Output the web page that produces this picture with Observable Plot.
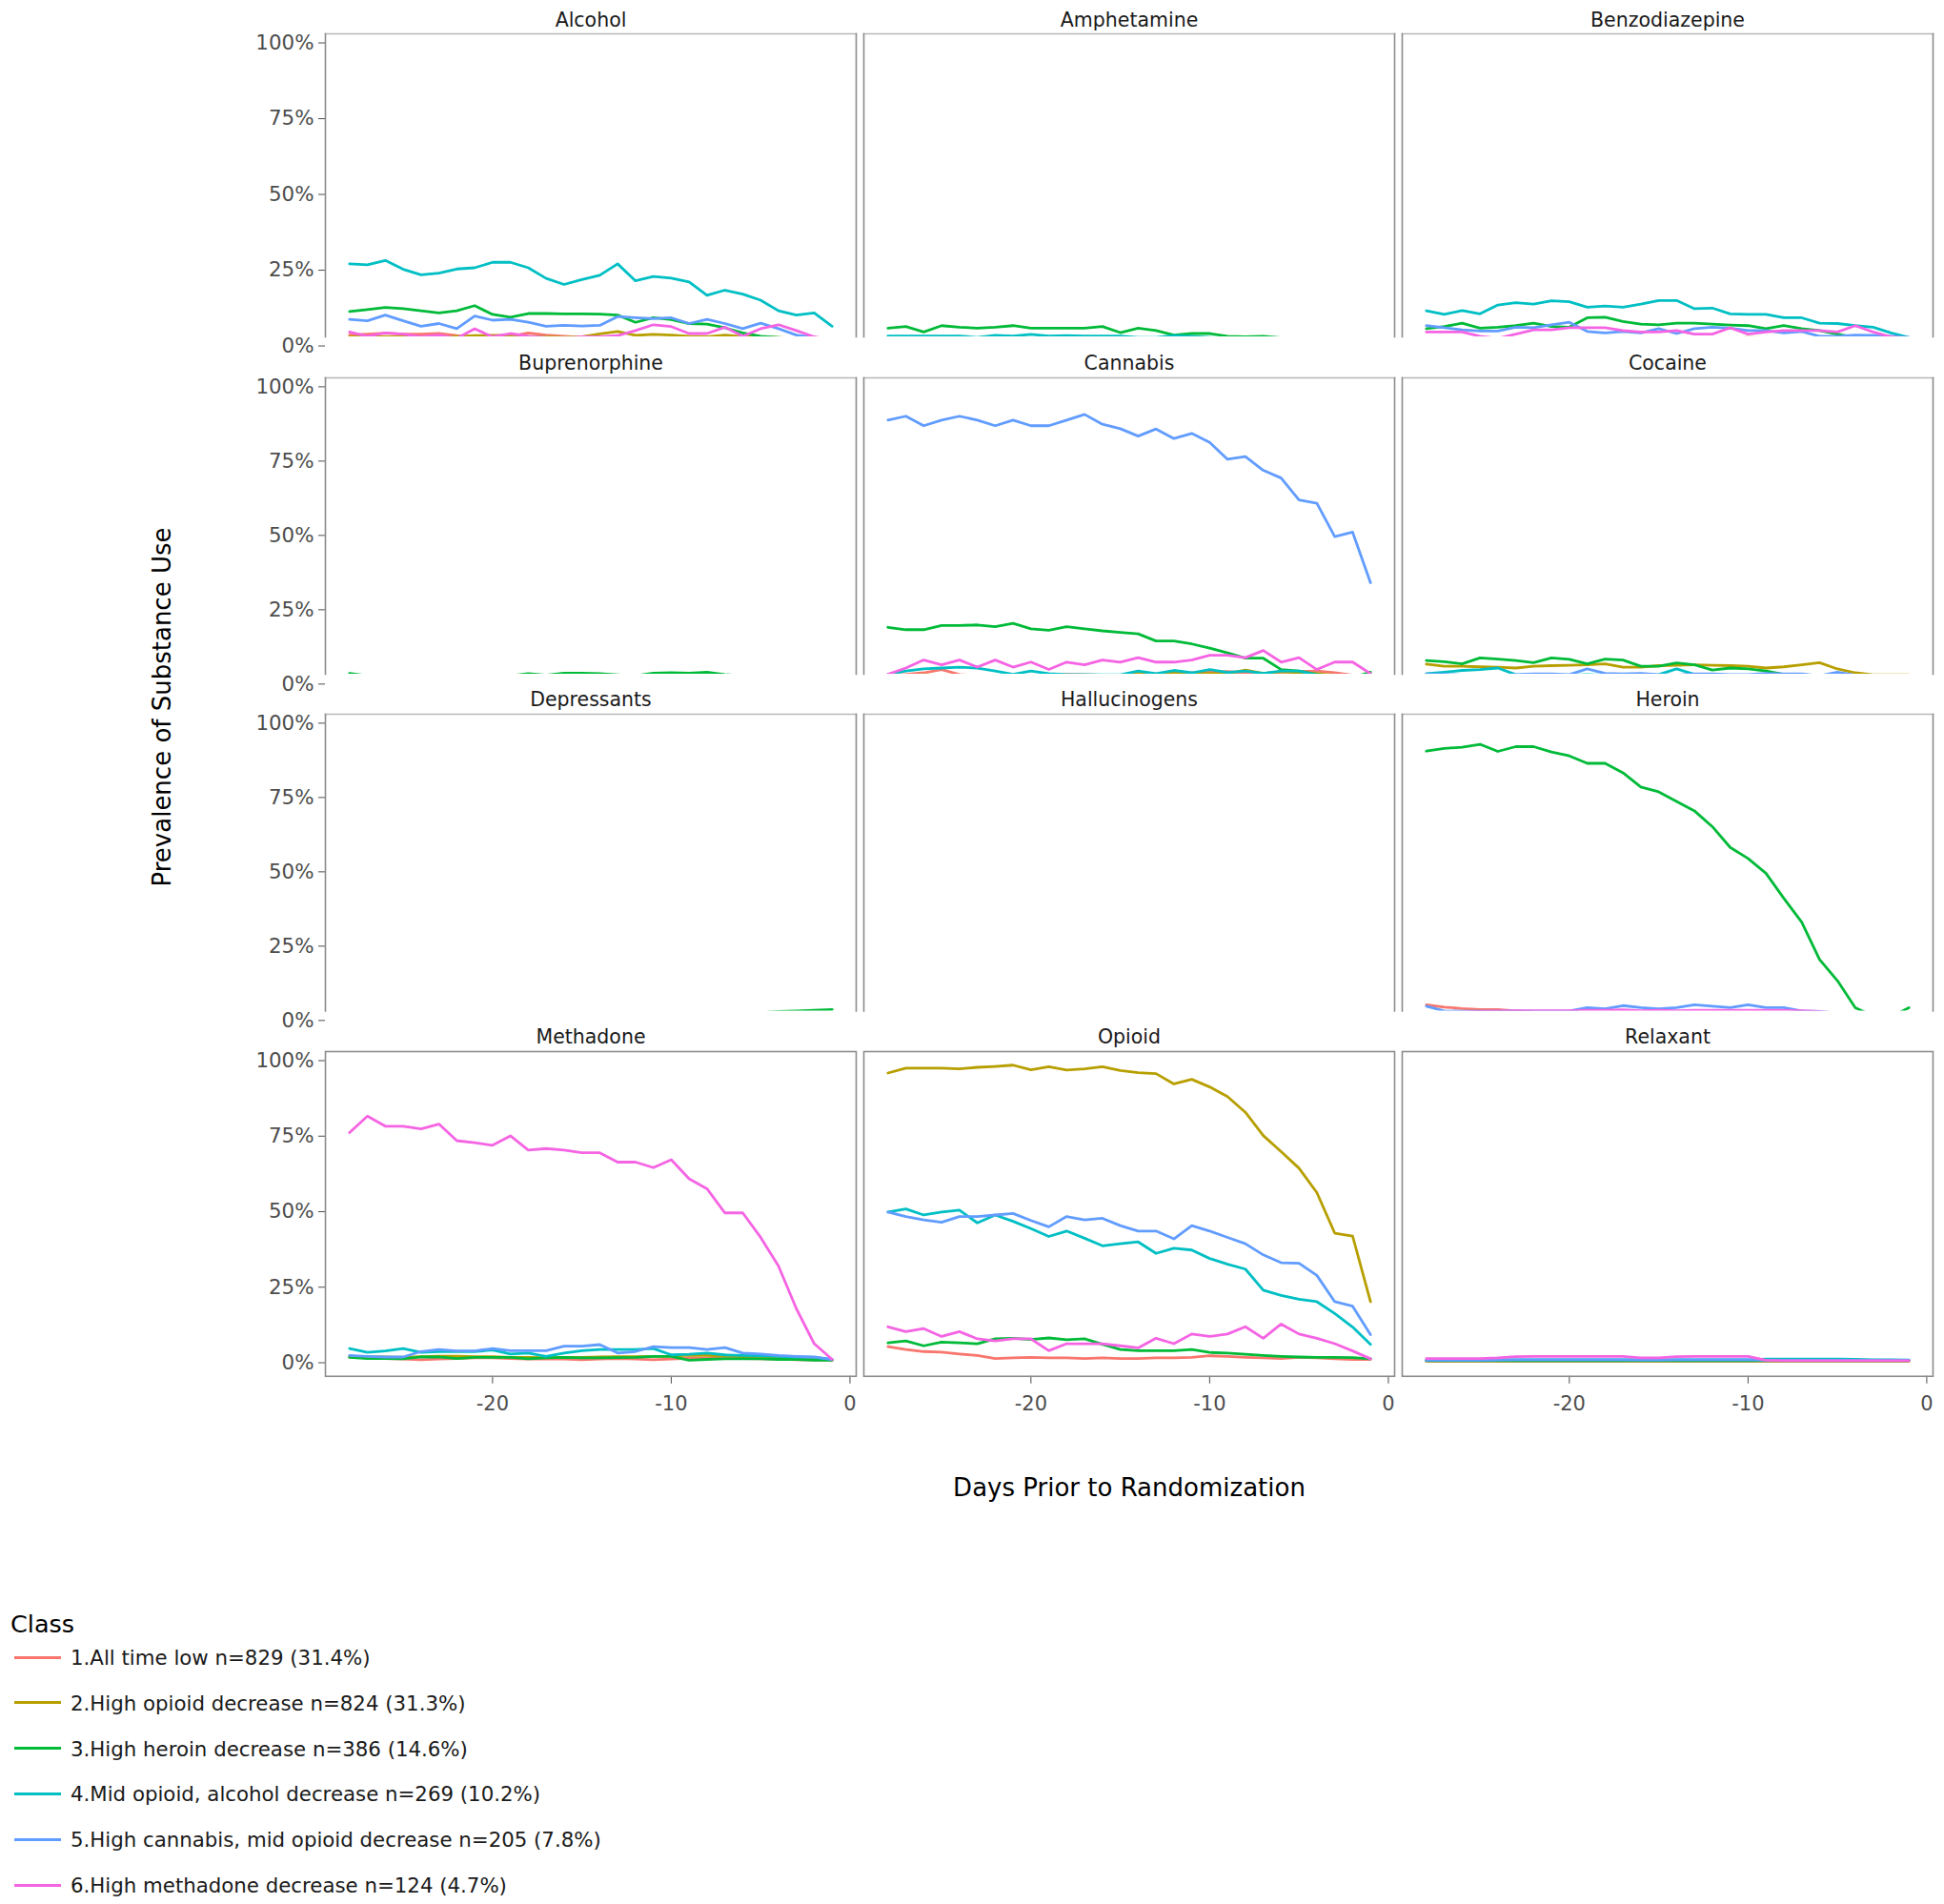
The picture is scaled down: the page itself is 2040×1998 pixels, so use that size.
<!DOCTYPE html>
<html>
<head>
<meta charset="utf-8">
<script src="https://cdn.jsdelivr.net/npm/d3@7"></script>
<script src="https://cdn.jsdelivr.net/npm/@observablehq/plot@0.6"></script>
<style>
  html, body { margin: 0; padding: 0; background: #fff; }
  body { font-family: "DejaVu Sans", sans-serif; }
  #chart { position: relative; width: 2040px; height: 1998px; overflow: hidden; background: #fff; }
  #chart > svg { position: absolute; left: 0; }
  .ytitle { position: absolute; left: 170px; top: 742px; transform: translate(-50%, -50%) rotate(-90deg); font-size: 26px; color: #000; white-space: nowrap; }
  .xtitle { position: absolute; left: 1185px; top: 1561px; transform: translate(-50%, -50%); font-size: 26px; color: #000; white-space: nowrap; }
  .legtitle { position: absolute; left: 11px; top: 1704px; transform: translateY(-50%); font-size: 25.5px; color: #000; }
  .legitem { position: absolute; left: 15px; transform: translateY(-50%); display: flex; align-items: center; font-size: 21.3px; color: #1a1a1a; white-space: nowrap; }
  .legitem svg { display: block; margin-right: 10px; }
</style>
</head>
<body>
<div id="chart"></div>
<script>
// ---------- data ----------
const days = [-28,-27,-26,-25,-24,-23,-22,-21,-20,-19,-18,-17,-16,-15,-14,-13,-12,-11,-10,-9,-8,-7,-6,-5,-4,-3,-2,-1];

const classes = [
  "1.All time low n=829 (31.4%)",
  "2.High opioid decrease n=824 (31.3%)",
  "3.High heroin decrease n=386 (14.6%)",
  "4.Mid opioid, alcohol decrease n=269 (10.2%)",
  "5.High cannabis, mid opioid decrease n=205 (7.8%)",
  "6.High methadone decrease n=124 (4.7%)"
];
const colors = ["#F8766D", "#B79F00", "#00BA38", "#00BFC4", "#619CFF", "#F564E3"];

const rows = [
  ["Alcohol", "Amphetamine", "Benzodiazepine"],
  ["Buprenorphine", "Cannabis", "Cocaine"],
  ["Depressants", "Hallucinogens", "Heroin"],
  ["Methadone", "Opioid", "Relaxant"]
];

const yTicks = [0, 25, 50, 75, 100];
const xTicks = [-20, -10, 0];

// prevalence (%) per class (1..6), days -28..-1
const alcohol = [
  [3.6,3.9,4.2,3.9,3.9,4.1,3.4,3.0,3.5,3.2,4.3,3.6,3.2,2.8,2.5,2.5,2.5,2.5,2.5,2.5,2.4,2.5,2.4,2.4,2.5,2.6,2.5,2.0],
  [3.0,3.0,3.0,3.0,3.0,2.8,3.1,3.4,3.4,3.6,3.2,3.0,2.8,3.0,4.0,4.8,3.5,3.8,3.6,3.2,3.0,3.6,3.0,3.0,2.8,2.6,2.4,2.2],
  [11.4,12.0,12.7,12.3,11.6,10.9,11.6,13.3,10.4,9.5,10.7,10.7,10.6,10.6,10.5,10.2,7.8,9.3,8.7,7.4,7.2,6.0,4.3,3.2,2.8,2.2,1.8,1.4],
  [27.1,26.8,28.2,25.3,23.5,24.0,25.4,25.8,27.6,27.6,25.8,22.3,20.3,21.9,23.3,27.1,21.5,22.9,22.4,21.1,16.7,18.4,17.1,15.1,11.6,10.2,10.9,6.5],
  [8.8,8.3,10.2,8.3,6.5,7.4,5.7,9.9,8.5,8.8,7.8,6.5,6.8,6.6,6.8,9.7,9.3,9.0,9.3,7.4,8.8,7.4,5.7,7.5,5.7,3.6,2.8,2.0],
  [4.6,3.2,4.3,3.9,3.0,3.6,2.5,5.7,3.0,4.1,3.2,2.8,2.5,3.0,3.0,3.4,5.1,7.0,6.4,4.1,4.1,6.2,3.2,5.7,7.0,5.1,3.0,2.0]
];
const amphetamine = [
  [1.5,1.5,1.4,1.4,1.3,1.3,1.2,1.2,1.2,1.1,1.1,1.0,1.0,1.0,1.0,1.0,0.9,0.9,0.9,0.8,0.8,0.8,0.7,0.7,0.6,0.6,0.5,0.5],
  [1.8,1.8,1.7,1.8,1.7,1.6,1.6,1.7,1.5,1.6,1.5,1.5,1.4,1.4,1.3,1.3,1.2,1.2,1.1,1.0,1.0,0.9,0.9,0.8,0.8,0.7,0.6,0.5],
  [5.9,6.4,4.6,6.7,6.2,5.9,6.2,6.7,5.9,5.9,5.9,5.9,6.4,4.4,5.9,5.1,3.6,4.1,4.1,3.2,3.0,3.2,2.7,2.4,2.0,2.0,1.8,1.5],
  [3.3,3.3,3.3,3.3,3.3,2.8,3.5,3.3,3.8,3.3,3.4,3.3,3.3,3.3,2.8,2.8,3.4,3.2,2.8,2.7,2.6,2.5,2.4,2.3,2.2,2.0,1.8,1.6],
  [1.6,1.5,1.6,1.4,1.5,1.4,1.5,1.3,1.4,1.3,1.2,1.2,1.3,1.1,1.1,1.0,1.0,1.0,0.9,0.9,0.8,0.8,0.8,0.7,0.7,0.6,0.6,0.5],
  [2.0,1.8,2.0,1.6,1.8,1.6,1.8,1.5,1.6,1.4,1.6,1.4,1.2,1.4,1.2,1.0,1.2,1.0,1.0,0.8,1.0,0.8,0.8,0.6,0.6,0.5,0.5,0.4]
];
const benzodiazepine = [
  [2.0,2.1,2.0,2.2,2.1,2.0,2.0,1.9,2.0,1.9,1.8,1.9,1.8,1.8,1.7,1.8,2.2,2.4,2.5,2.4,2.3,2.0,1.8,1.6,1.5,1.4,1.2,1.0],
  [2.4,2.5,2.4,2.5,2.4,2.3,2.4,2.3,2.2,2.3,2.2,2.1,2.2,2.1,2.0,2.1,2.2,2.6,2.8,2.7,2.5,2.4,2.2,2.0,1.8,1.6,1.4,1.2],
  [5.7,6.4,7.5,5.9,6.2,6.7,7.5,6.4,6.2,9.3,9.5,8.1,7.2,7.0,7.5,7.5,7.2,6.9,6.7,5.7,6.7,5.7,5.1,3.9,2.8,2.4,2.0,1.6],
  [11.6,10.4,11.7,10.6,13.5,14.3,13.8,14.9,14.6,12.8,13.2,12.8,13.8,15.0,15.0,12.3,12.5,10.6,10.4,10.4,9.3,9.3,7.5,7.4,6.7,6.2,4.3,2.8],
  [6.7,6.0,5.3,4.9,4.9,6.2,6.0,7.0,7.8,4.8,4.3,4.8,4.3,5.7,4.1,5.7,6.2,5.9,5.1,5.1,4.3,4.8,3.2,3.2,3.6,3.5,3.2,2.8],
  [4.6,4.6,4.6,3.2,2.5,3.9,5.3,5.3,6.0,6.0,6.0,5.1,4.6,4.6,5.1,3.9,3.9,6.0,3.9,4.6,5.1,5.1,5.1,4.6,6.7,4.6,3.0,2.5]
];
const buprenorphine = [
  [1.2,1.1,1.2,1.0,1.1,1.0,1.0,0.9,1.0,0.9,0.9,0.8,0.9,0.8,0.8,0.8,0.7,0.7,0.7,0.6,0.6,0.6,0.5,0.5,0.5,0.4,0.4,0.3],
  [2.2,2.1,2.3,2.0,2.2,2.1,2.0,2.1,1.9,2.0,1.9,1.8,1.9,1.8,1.7,1.8,1.6,1.6,1.5,1.5,1.4,1.3,1.2,1.1,1.0,0.9,0.8,0.6],
  [3.6,2.8,2.5,2.4,2.6,2.8,2.9,3.0,2.9,2.8,3.5,3.0,3.7,3.7,3.5,3.1,2.8,3.7,3.8,3.7,4.0,3.2,2.8,2.5,2.2,2.0,1.8,1.5],
  [2.0,1.8,2.0,1.9,1.8,1.9,1.7,1.8,1.6,1.7,1.6,1.5,1.6,1.4,1.5,1.4,1.3,1.4,1.2,1.3,1.1,1.2,1.0,1.0,0.9,0.8,0.7,0.6],
  [1.5,1.6,1.4,1.5,1.3,1.4,1.2,1.4,1.2,1.3,1.1,1.2,1.0,1.1,1.0,1.0,0.9,0.9,0.8,0.8,0.7,0.7,0.6,0.6,0.5,0.5,0.4,0.4],
  [2.4,2.2,2.4,2.0,2.2,2.0,1.8,2.0,1.8,2.0,1.6,1.8,1.6,1.6,1.4,1.6,1.4,1.4,1.2,1.2,1.0,1.0,0.8,0.8,0.6,0.6,0.5,0.4]
];
const cannabis = [
  [3.0,3.3,3.8,4.9,3.2,2.8,2.8,2.8,2.8,3.1,3.3,3.2,3.0,3.0,3.0,3.4,3.6,3.8,4.0,4.2,3.8,3.6,4.0,4.2,4.4,3.8,3.0,2.8],
  [3.0,3.0,3.1,3.0,2.9,2.9,2.8,3.0,3.0,2.9,2.8,2.8,2.9,3.0,3.6,3.3,3.8,3.4,3.6,3.5,4.7,3.6,4.2,3.8,3.5,3.0,2.6,2.4],
  [19.1,18.3,18.3,19.7,19.7,19.9,19.3,20.4,18.6,18.1,19.3,18.6,17.9,17.4,16.9,14.5,14.5,13.5,12.1,10.5,8.7,8.7,4.9,4.4,3.3,2.5,2.2,4.0],
  [3.3,4.4,5.1,5.4,5.7,5.4,4.4,3.3,4.4,3.5,3.2,3.2,3.1,3.1,4.4,3.5,4.6,3.8,4.9,3.9,4.4,3.6,4.4,4.4,3.0,2.5,2.2,2.0],
  [88.8,90.1,86.9,88.8,90.1,88.8,86.9,88.8,86.9,86.9,88.8,90.7,87.4,85.9,83.4,85.8,82.6,84.3,81.3,75.6,76.5,71.9,69.3,61.9,60.8,49.6,51.1,34.1],
  [3.3,5.4,8.1,6.5,8.1,5.7,8.1,5.7,7.4,4.9,7.4,6.5,8.1,7.4,8.9,7.4,7.4,8.1,9.7,9.7,8.9,11.3,7.4,8.9,4.9,7.4,7.4,3.5]
];
const cocaine = [
  [2.0,2.1,2.2,2.0,2.1,1.9,2.0,1.8,1.9,1.8,1.7,1.8,1.6,1.7,1.6,1.5,1.6,1.4,1.5,1.3,1.4,1.2,1.2,1.1,1.0,0.9,0.8,0.7],
  [6.7,6.0,6.0,5.8,5.7,5.4,6.0,6.2,6.3,6.5,6.8,5.7,5.7,6.2,6.3,6.5,6.3,6.2,6.0,5.4,5.8,6.5,7.2,5.1,3.8,3.1,3.1,3.1],
  [7.9,7.5,6.8,8.8,8.4,7.9,7.2,8.8,8.3,6.8,8.4,8.1,6.0,6.0,7.1,6.5,4.7,5.4,5.1,4.4,3.3,2.5,2.2,2.0,1.8,1.5,1.3,1.2],
  [3.5,4.0,4.6,4.9,5.4,3.2,3.0,3.0,3.0,3.2,3.0,3.0,3.1,3.2,5.1,3.3,3.2,3.0,2.8,2.6,2.5,2.4,2.3,2.2,2.0,1.8,1.6,1.5],
  [3.3,3.3,3.0,2.8,2.8,3.2,3.4,3.4,3.2,5.1,3.6,3.4,3.6,3.2,3.0,3.4,3.4,3.2,3.2,3.6,3.4,3.4,2.8,4.0,3.0,2.8,2.6,2.4],
  [1.8,1.6,1.8,1.5,1.6,1.4,1.6,1.3,1.5,1.2,1.4,1.2,1.3,1.1,1.2,1.0,1.1,1.0,1.0,0.9,0.9,0.8,0.8,0.7,0.7,0.6,0.6,0.5]
];
const depressants = [
  [0.6,0.6,0.5,0.6,0.5,0.5,0.6,0.5,0.5,0.4,0.5,0.4,0.5,0.4,0.4,0.4,0.5,0.4,0.4,0.3,0.4,0.3,0.3,0.3,0.3,0.2,0.2,0.2],
  [0.9,0.8,0.9,0.8,0.8,0.9,0.7,0.8,0.7,0.8,0.7,0.7,0.6,0.7,0.6,0.6,0.6,0.5,0.6,0.5,0.5,0.5,0.4,0.4,0.4,0.3,0.3,0.3],
  [1.5,1.4,1.6,1.5,1.4,1.5,1.3,1.4,1.5,1.3,1.4,1.2,1.3,1.5,1.4,1.6,1.5,1.7,1.8,1.9,2.0,2.2,2.4,2.6,3.0,3.2,3.4,3.7],
  [1.2,1.1,1.2,1.0,1.1,1.0,1.1,0.9,1.0,0.9,1.0,0.8,0.9,0.8,0.9,0.8,0.8,0.7,0.7,0.7,0.6,0.6,0.6,0.5,0.5,0.5,0.4,0.4],
  [1.0,1.1,0.9,1.0,0.9,1.0,0.8,0.9,0.8,0.9,0.8,0.8,0.7,0.8,0.7,0.7,0.6,0.7,0.6,0.6,0.5,0.6,0.5,0.5,0.4,0.4,0.4,0.3],
  [0.8,0.8,0.8,0.8,0.9,0.8,0.8,0.8,0.8,0.8,0.8,0.8,0.8,0.8,0.8,0.8,0.8,0.8,0.8,0.8,0.8,0.8,0.8,0.8,0.8,0.8,0.8,0.8]
];
const hallucinogens = [
  [0.4,0.4,0.4,0.3,0.4,0.3,0.3,0.3,0.3,0.3,0.3,0.3,0.2,0.3,0.2,0.2,0.2,0.2,0.2,0.2,0.2,0.2,0.1,0.1,0.1,0.1,0.1,0.1],
  [0.5,0.5,0.4,0.5,0.4,0.4,0.4,0.4,0.4,0.3,0.4,0.3,0.3,0.3,0.3,0.3,0.3,0.2,0.3,0.2,0.2,0.2,0.2,0.2,0.1,0.1,0.1,0.1],
  [1.0,1.1,0.9,1.0,1.0,0.9,1.0,0.8,0.9,0.8,0.9,0.8,0.8,0.7,0.8,0.7,0.7,0.6,0.7,0.6,0.6,0.5,0.5,0.5,0.4,0.4,0.3,0.3],
  [1.2,1.0,1.2,1.1,1.0,1.1,0.9,1.0,0.9,1.0,0.8,0.9,0.8,0.8,0.7,0.8,0.7,0.7,0.6,0.6,0.6,0.5,0.5,0.4,0.4,0.4,0.3,0.3],
  [1.6,1.5,1.6,1.4,1.5,1.4,1.3,1.4,1.2,1.3,1.2,1.1,1.2,1.0,1.1,1.0,0.9,1.0,0.8,0.9,0.8,0.7,0.7,0.6,0.6,0.5,0.5,0.4],
  [0.8,0.8,0.8,0.8,0.8,0.8,0.8,0.8,0.8,0.8,0.8,0.8,0.8,0.8,0.8,0.8,0.8,0.8,0.8,0.8,0.8,0.8,0.8,0.8,0.8,0.8,0.8,0.8]
];
const heroin = [
  [5.3,4.5,4.0,3.7,3.7,3.2,2.8,2.6,2.5,2.4,2.3,2.2,2.1,2.0,2.0,1.9,1.8,1.8,1.7,1.6,1.6,1.5,1.4,1.3,1.2,1.1,1.0,0.9],
  [2.2,2.1,2.2,2.0,2.1,2.0,1.9,2.0,1.9,1.8,1.9,1.8,1.7,1.7,1.6,1.6,1.5,1.5,1.4,1.4,1.3,1.2,1.2,1.1,1.0,0.9,0.8,0.7],
  [90.6,91.5,91.9,92.9,90.5,92.1,92.1,90.3,89.0,86.5,86.5,83.3,78.5,76.9,73.7,70.5,65.2,58.2,54.5,49.5,41.1,33.1,20.5,13.4,4.3,1.5,1.2,4.3],
  [2.0,1.9,2.0,1.8,1.9,1.7,1.8,1.7,1.6,1.7,1.5,1.6,1.5,1.4,1.4,1.3,1.3,1.2,1.2,1.1,1.1,1.0,1.0,0.9,0.8,0.8,0.7,0.6],
  [4.8,3.2,3.1,3.1,3.1,3.2,3.1,3.1,3.2,4.3,3.9,5.0,4.3,3.9,4.3,5.3,4.8,4.3,5.3,4.3,4.3,3.2,3.0,2.5,2.2,2.0,1.8,1.6],
  [2.5,2.6,2.8,3.0,3.2,3.3,3.3,3.3,3.3,3.4,3.4,3.6,3.3,3.4,3.3,3.4,3.4,3.4,3.4,3.4,3.4,3.3,3.0,2.5,2.2,2.0,1.8,1.5]
];
const methadone = [
  [1.8,1.6,1.4,1.2,1.0,1.2,1.4,1.6,1.6,1.4,1.2,1.2,1.2,1.0,1.2,1.4,1.2,1.0,1.2,1.5,1.5,1.4,1.4,1.3,1.2,1.0,0.9,0.8],
  [2.0,2.0,1.9,1.8,2.0,2.2,2.2,2.0,2.0,1.8,1.8,1.7,1.8,1.8,1.9,2.0,2.0,2.1,2.2,2.5,2.4,2.2,2.0,2.2,1.8,1.5,1.2,1.0],
  [1.8,1.4,1.4,1.3,1.9,1.9,1.4,1.8,1.8,1.8,1.3,1.6,1.8,1.6,1.6,1.7,1.8,2.1,2.1,0.8,1.1,1.3,1.3,1.3,1.1,1.1,0.8,0.8],
  [4.7,3.4,3.9,4.7,3.4,3.7,3.7,3.7,4.2,2.9,3.2,2.1,3.2,4.0,4.4,4.4,4.4,4.7,2.6,2.8,3.2,2.6,2.4,2.3,2.1,1.9,1.8,1.1],
  [2.4,2.1,1.9,1.9,3.7,4.4,3.9,3.9,4.7,4.0,4.0,4.0,5.5,5.5,6.0,3.2,3.7,5.3,5.0,5.0,4.4,5.0,3.2,2.9,2.4,2.1,1.9,1.1],
  [76.2,81.6,78.3,78.3,77.4,79.0,73.5,72.8,72.0,75.1,70.4,70.9,70.4,69.5,69.5,66.4,66.4,64.6,67.2,60.9,57.6,49.6,49.6,41.5,32.0,17.9,6.3,1.1]
];
const opioid = [
  [5.3,4.4,3.7,3.5,2.9,2.4,1.4,1.6,1.8,1.6,1.6,1.4,1.6,1.4,1.4,1.6,1.6,1.8,2.3,2.1,1.8,1.6,1.4,1.8,1.6,1.3,1.1,1.1],
  [95.9,97.5,97.5,97.5,97.3,97.8,98.1,98.5,97.0,98.0,96.9,97.3,98.0,96.7,96.0,95.7,92.3,93.8,91.3,88.1,82.9,75.2,69.9,64.4,56.3,42.9,41.9,20.2],
  [6.6,7.2,5.6,6.8,6.6,6.3,7.9,8.1,7.7,8.2,7.6,7.9,6.1,4.4,4.0,4.0,4.0,4.4,3.4,3.2,2.8,2.4,2.1,1.9,1.8,1.8,1.7,1.3],
  [49.9,50.9,48.9,49.9,50.5,46.3,48.9,46.8,44.4,41.8,43.6,41.2,38.7,39.4,40.0,36.2,37.9,37.3,34.5,32.6,31.0,24.0,22.3,21.0,20.2,16.3,11.8,6.1],
  [49.9,48.4,47.3,46.5,48.4,48.4,48.9,49.4,47.1,45.0,48.4,47.3,47.8,45.4,43.6,43.6,41.0,45.4,43.6,41.5,39.4,35.7,33.1,32.9,28.9,20.2,18.7,9.3],
  [11.9,10.3,11.3,8.7,10.3,7.9,7.2,7.9,7.9,4.0,6.3,6.3,6.3,5.6,4.9,8.1,6.3,9.5,8.7,9.5,11.9,8.1,12.8,9.5,8.1,6.3,3.9,1.3]
];
const relaxant = [
  [0.5,0.5,0.5,0.5,0.5,0.5,0.5,0.5,0.5,0.5,0.5,0.5,0.5,0.5,0.5,0.5,0.5,0.5,0.5,0.5,0.5,0.5,0.5,0.5,0.5,0.5,0.5,0.5],
  [0.6,0.6,0.6,0.6,0.6,0.6,0.6,0.6,0.6,0.6,0.6,0.6,0.6,0.6,0.6,0.6,0.6,0.6,0.6,0.6,0.6,0.6,0.6,0.6,0.6,0.6,0.6,0.6],
  [0.7,0.7,0.7,0.7,0.7,0.7,0.7,0.7,0.7,0.7,0.7,0.7,0.7,0.7,0.7,0.7,0.7,0.7,0.7,0.7,0.7,0.7,0.7,0.7,0.7,0.7,0.7,0.7],
  [0.9,0.9,0.9,0.9,1.0,1.0,1.0,1.0,1.0,1.0,1.0,1.0,1.0,1.0,1.0,1.0,1.0,1.0,1.0,1.2,1.2,1.2,1.2,1.2,1.1,1.0,1.0,0.9],
  [0.8,0.8,0.8,0.8,0.9,1.0,1.0,1.0,1.0,1.0,1.0,1.0,0.9,0.9,1.0,1.0,1.0,1.0,1.0,0.8,0.8,0.8,0.8,0.8,0.8,0.8,0.8,0.8],
  [1.4,1.4,1.4,1.4,1.6,2.0,2.1,2.1,2.1,2.1,2.1,2.1,1.6,1.6,2.0,2.1,2.1,2.1,2.1,0.8,0.7,0.7,0.7,0.7,0.7,0.7,0.7,0.7]
];

const seriesBySubstance = {
  Alcohol: alcohol, Amphetamine: amphetamine, Benzodiazepine: benzodiazepine,
  Buprenorphine: buprenorphine, Cannabis: cannabis, Cocaine: cocaine,
  Depressants: depressants, Hallucinogens: hallucinogens, Heroin: heroin,
  Methadone: methadone, Opioid: opioid, Relaxant: relaxant
};

// ---------- layout (pixels) ----------
const rowGeom = [
  {y100: 45,   y0: 363,  lo: 3.0},
  {y100: 405,  y0: 717,  lo: 3.3},
  {y100: 758,  y0: 1070, lo: 3.2},
  {y100: 1113, y0: 1430, lo: -4.5}
];
const yHi = 103;
const FONT = "DejaVu Sans";

const chart = document.getElementById("chart");

rows.forEach((subs, r) => {
  const g = rowGeom[r];
  const s = (g.y0 - g.y100) / 100;
  const frameTop = g.y100 - (yHi - 100) * s;
  const frameH = (yHi - g.lo) * s;
  const last = r === rows.length - 1;
  const mt = 40, mb = last ? 56 : 30;

  const data = [];
  for (const sub of subs) {
    seriesBySubstance[sub].forEach((vals, ci) => {
      vals.forEach((v, i) => data.push({sub, cls: classes[ci], day: days[i], v}));
    });
  }

  const marks = [
    Plot.axisFx({anchor: "top", tickSize: 0, tickPadding: 8, fontSize: 20.5, label: null, color: "#1a1a1a"}),
    Plot.axisY({ticks: yTicks, tickFormat: d => d + "%", tickSize: 7, tickPadding: 5, fontSize: 21.4, label: null, color: "#4d4d4d"}),
    Plot.line(data, {x: "day", y: "v", z: "cls", stroke: "cls", fx: "sub", strokeWidth: 2.8, clip: true})
  ];
  if (last) {
    marks.push(Plot.axisX({ticks: xTicks, tickFormat: d => String(d), tickSize: 8, tickPadding: 13, fontSize: 21, label: null, color: "#4d4d4d"}));
    marks.push(Plot.frame({stroke: "#8c8c8c", strokeWidth: 1.6}));
  } else {
    marks.push(Plot.frame({anchor: "top", stroke: "#b8b8b8", strokeWidth: 1.6}));
    marks.push(Plot.frame({anchor: "left", stroke: "#8c8c8c", strokeWidth: 1.6}));
    marks.push(Plot.frame({anchor: "right", stroke: "#8c8c8c", strokeWidth: 1.6}));
  }

  const plot = Plot.plot({
    width: 2040,
    height: mt + frameH + mb,
    marginTop: mt,
    marginBottom: mb,
    marginLeft: 341,
    marginRight: 12,
    style: {fontFamily: FONT, fontSize: "21px", background: "transparent", overflow: "visible"},
    x: last ? {domain: [-29.35, 0.35]} : {domain: [-29.35, 0.35], axis: null},
    y: {domain: [g.lo, yHi], axis: null},
    fx: {domain: subs, paddingInner: 0.015, paddingOuter: 0, label: null},
    color: {domain: classes, range: colors},
    marks
  });
  plot.style.top = (frameTop - mt) + "px";
  chart.appendChild(plot);
});

// axis titles
const yt = document.createElement("div");
yt.className = "ytitle"; yt.textContent = "Prevalence of Substance Use";
chart.appendChild(yt);
const xt = document.createElement("div");
xt.className = "xtitle"; xt.textContent = "Days Prior to Randomization";
chart.appendChild(xt);

// legend
const lt = document.createElement("div");
lt.className = "legtitle"; lt.textContent = "Class";
chart.appendChild(lt);
classes.forEach((c, i) => {
  const item = document.createElement("div");
  item.className = "legitem";
  item.style.top = (1739 + i * 47.8) + "px";
  item.innerHTML = `<svg width="49" height="10"><line x1="0" x2="49" y1="5" y2="5" stroke="${colors[i]}" stroke-width="3"/></svg><span>${c}</span>`;
  chart.appendChild(item);
});
</script>
</body>
</html>
